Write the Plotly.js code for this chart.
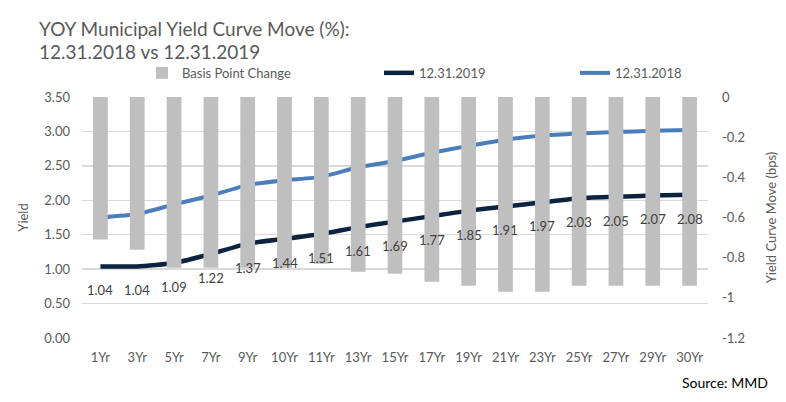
<!DOCTYPE html>
<html><head><meta charset="utf-8">
<script src="https://cdn.plot.ly/plotly-3.0.1.min.js"></script>
<style>html,body{margin:0;padding:0;background:#fff}#chart{width:786px;height:402px}</style>
</head><body><div id="chart"></div>
<script>
const categories = ["1Yr","3Yr","5Yr","7Yr","9Yr","10Yr","11Yr","13Yr","15Yr","17Yr","19Yr","21Yr","23Yr","25Yr","27Yr","29Yr","30Yr"];
const yield2019 = [1.04,1.04,1.09,1.22,1.37,1.44,1.51,1.61,1.69,1.77,1.85,1.91,1.97,2.03,2.05,2.07,2.08];
const yield2018 = [1.75,1.80,1.94,2.07,2.22,2.29,2.34,2.48,2.57,2.69,2.79,2.88,2.94,2.97,2.99,3.01,3.02];
const bpsChange = [-0.71,-0.76,-0.85,-0.85,-0.85,-0.85,-0.83,-0.87,-0.88,-0.92,-0.94,-0.97,-0.97,-0.94,-0.94,-0.94,-0.94];
const leftTicks = [0,0.5,1,1.5,2,2.5,3,3.5];
const rightTicks = [0,-0.2,-0.4,-0.6,-0.8,-1,-1.2];

const FONT = "Lato, 'Open Sans', sans-serif";
const GREY = "#595959";

const traces = [
  {type:"bar", name:"Basis Point Change", x:categories, y:bpsChange, yaxis:"y2",
   marker:{color:"#BFBFBF"}, width:0.4, base:0, legend:"legend"},
  {type:"scatter", mode:"lines", name:"12.31.2019", x:categories, y:yield2019,
   line:{color:"#0C2340", width:4.5, shape:"spline", smoothing:0.5}, legend:"legend2"},
  {type:"scatter", mode:"lines", name:"12.31.2018", x:categories, y:yield2018,
   line:{color:"#4A7EBB", width:4, shape:"spline", smoothing:0.5}, legend:"legend3"}
];

const annotations = categories.map((c,i)=>({
  x:c, y:yield2019[i], xref:"x", yref:"y", text:yield2019[i].toFixed(2),
  showarrow:false, yshift:-24, font:{family:FONT, size:13, color:"#404040"}
}));
annotations.push({xref:"paper", yref:"paper", x:1.099, y:-0.183, xanchor:"right", yanchor:"middle",
  text:"Source: MMD", showarrow:false, font:{family:FONT, size:14, color:"#000"}});
annotations.push({xref:"paper", yref:"paper", x:-0.072, y:1.286, xanchor:"left", yanchor:"middle",
  text:"YOY Municipal Yield Curve Move (%):", showarrow:false, font:{family:FONT, size:19, color:GREY}});
annotations.push({xref:"paper", yref:"paper", x:-0.072, y:1.187, xanchor:"left", yanchor:"middle",
  text:"12.31.2018 vs 12.31.2019", showarrow:false, font:{family:FONT, size:19, color:GREY}});

function leg(px){
  return {orientation:"h", x:(px-82)/626, xanchor:"left", y:1.10, yanchor:"middle",
    font:{family:FONT, size:13, color:GREY}, bgcolor:"rgba(0,0,0,0)"};
}

const layout = {
  width:786, height:402,
  margin:{l:82, r:78, t:97, b:64},
  paper_bgcolor:"#fff", plot_bgcolor:"#fff",
  font:{family:FONT, color:GREY, size:13},
  showlegend:true,
  legend:leg(142), legend2:leg(379), legend3:leg(575),
  xaxis:{type:"category", showgrid:false, zeroline:false, showline:false,
    tickfont:{family:FONT, size:13, color:GREY}, ticks:"", ticklabelstandoff:10},
  yaxis:{range:[0,3.5], tickvals:leftTicks, ticktext:leftTicks.map(v=>v.toFixed(2)),
    showgrid:true, gridcolor:"#D9D9D9", gridwidth:1.5, zeroline:false, showline:false,
    ticklabelstandoff:11,
    title:{text:"Yield", font:{family:FONT, size:13, color:GREY}, standoff:12},
    tickfont:{family:FONT, size:13, color:GREY}},
  yaxis2:{range:[-1.2,0], overlaying:"y", side:"right", tickvals:rightTicks,
    ticktext:rightTicks.map(v=>String(v)), showgrid:false, zeroline:false, showline:false,
    ticklabelstandoff:13,
    title:{text:"Yield Curve Move (bps)", font:{family:FONT, size:13, color:GREY}, standoff:22},
    tickfont:{family:FONT, size:13, color:GREY}},
  annotations:annotations
};
Plotly.newPlot("chart", traces, layout, {displayModeBar:false, staticPlot:true});
</script></body></html>
